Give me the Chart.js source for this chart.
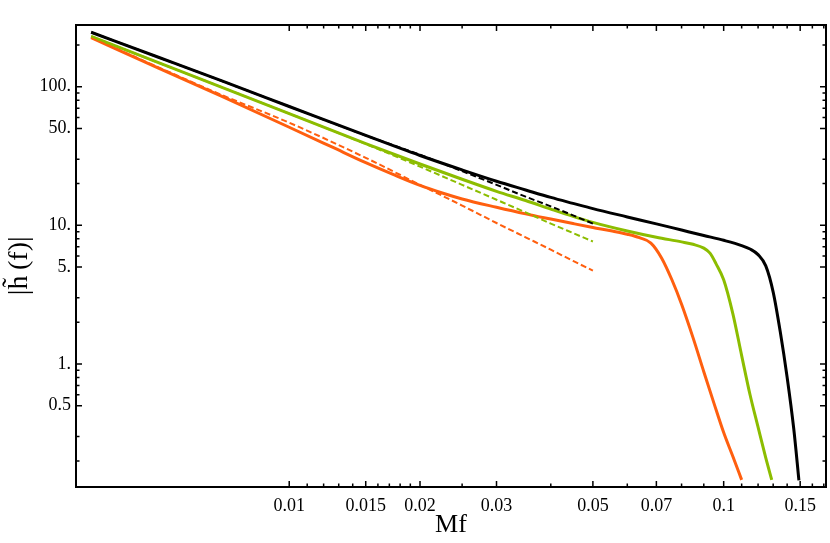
<!DOCTYPE html>
<html>
<head>
<meta charset="utf-8">
<script src="https://cdn.jsdelivr.net/npm/chart.js@4.4.0/dist/chart.umd.min.js"></script>
<style>
  html, body { margin: 0; padding: 0; background: #fff; }
</style>
</head>
<body>
<canvas id="hChart" width="830" height="543"></canvas>
<script>
// Full curves (log-log)
const blackX = [0.0035, 0.005, 0.007, 0.01, 0.015, 0.02, 0.025, 0.03, 0.035, 0.04, 0.045, 0.05, 0.06, 0.07, 0.08, 0.09, 0.1, 0.11, 0.115, 0.12, 0.125, 0.13, 0.135, 0.14, 0.145, 0.149];
const blackY = [247, 163, 110, 72, 44.5, 31.9, 25.1, 20.8, 18.0, 15.9, 14.4, 13.2, 11.5, 10.25, 9.25, 8.45, 7.8, 7.15, 6.75, 6.15, 5.1, 3.3, 1.7, 0.8, 0.34, 0.145];

const greenX = [0.0035, 0.005, 0.007, 0.01, 0.015, 0.02, 0.025, 0.03, 0.035, 0.04, 0.045, 0.05, 0.06, 0.07, 0.08, 0.085, 0.09, 0.093, 0.096, 0.1, 0.105, 0.11, 0.115, 0.12, 0.125, 0.129];
const greenY = [231, 149, 99, 64, 38.8, 27.7, 21.5, 17.6, 15.1, 13.1, 11.6, 10.5, 9.1, 8.2, 7.6, 7.3, 6.85, 6.3, 5.3, 4.05, 2.3, 1.15, 0.6, 0.35, 0.21, 0.146];

const orangeX = [0.0035, 0.005, 0.007, 0.01, 0.0125, 0.015, 0.0175, 0.02, 0.0225, 0.025, 0.03, 0.035, 0.04, 0.045, 0.05, 0.055, 0.06, 0.064, 0.068, 0.072, 0.076, 0.08, 0.085, 0.09, 0.095, 0.1, 0.105, 0.11];
const orangeY = [226, 136, 85, 51, 36.9, 28.3, 23.0, 19.4, 17.1, 15.5, 13.5, 12.1, 11.1, 10.3, 9.65, 9.13, 8.63, 8.15, 7.45, 5.8, 4.05, 2.7, 1.55, 0.88, 0.52, 0.32, 0.215, 0.146];

// Dashed approximations (stop at Mf = 0.05)
const dashX = [0.0035, 0.005, 0.007, 0.01, 0.015, 0.02, 0.025, 0.03, 0.035, 0.04, 0.045, 0.05];
const blackDashY = [247, 163, 110, 72, 44.5, 32.3, 24.6, 19.6, 16.1, 13.7, 11.8, 10.3];
const greenDashY = [231, 149, 99, 64, 38.6, 26.5, 19.6, 15.3, 12.4, 10.3, 8.8, 7.65];
const orangeDashY = [226, 138, 87, 55, 30.7, 19.6, 13.9, 10.4, 8.2, 6.68, 5.54, 4.72];

// Axis ticks
const xTickValues = [0.01, 0.015, 0.02, 0.03, 0.05, 0.07, 0.1, 0.15];
const xTickLabels = ['0.01', '0.015', '0.02', '0.03', '0.05', '0.07', '0.1', '0.15'];
const xMinorTicks = [0.011, 0.012, 0.013, 0.014, 0.016, 0.017, 0.018, 0.019, 0.025, 0.04, 0.06, 0.08, 0.09, 0.11, 0.12, 0.13, 0.14, 0.16, 0.17];
const yTickValues = [0.5, 1, 5, 10, 50, 100];
const yTickLabels = ['0.5', '1.', '5.', '10.', '50.', '100.'];
const yMinorTicks = [0.2, 0.3, 0.6, 0.7, 0.8, 0.9, 2, 3, 6, 7, 8, 9, 20, 30, 60, 70, 80, 90, 200];

const BLACK = '#000000';
const GREEN = '#8cbd00';
const ORANGE = '#ff5f0f';
const SERIF = "'Liberation Serif', 'DejaVu Serif', serif";

function pts(xs, ys) {
  return xs.map((x, i) => ({ x: x, y: ys[i] }));
}

// Mathematica-like frame with inward ticks on all four sides
const frameTicks = {
  id: 'frameTicks',
  afterDatasetsDraw(chart) {
    const { ctx, chartArea: a, scales: { x, y } } = chart;
    ctx.save();
    ctx.strokeStyle = '#000';
    ctx.lineWidth = 1.5;
    ctx.beginPath();
    const xTick = (v, len) => {
      const px = x.getPixelForValue(v);
      ctx.moveTo(px, a.bottom); ctx.lineTo(px, a.bottom - len);
      ctx.moveTo(px, a.top); ctx.lineTo(px, a.top + len);
    };
    const yTick = (v, len) => {
      const py = y.getPixelForValue(v);
      ctx.moveTo(a.left, py); ctx.lineTo(a.left + len, py);
      ctx.moveTo(a.right, py); ctx.lineTo(a.right - len, py);
    };
    xTickValues.forEach(v => xTick(v, 6));
    xMinorTicks.forEach(v => xTick(v, 3.5));
    yTickValues.forEach(v => yTick(v, 6));
    yMinorTicks.forEach(v => yTick(v, 3.5));
    ctx.stroke();
    ctx.lineWidth = 2;
    ctx.strokeRect(a.left, a.top, a.right - a.left, a.bottom - a.top);
    ctx.restore();
  }
};

new Chart(document.getElementById('hChart'), {
  type: 'line',
  data: {
    datasets: [
      { data: pts(dashX, blackDashY), borderColor: BLACK, borderWidth: 2, borderDash: [6, 3] },
      { data: pts(dashX, greenDashY), borderColor: GREEN, borderWidth: 2, borderDash: [6, 3] },
      { data: pts(dashX, orangeDashY), borderColor: ORANGE, borderWidth: 2, borderDash: [6, 3] },
      { data: pts(blackX, blackY), borderColor: BLACK, borderWidth: 3 },
      { data: pts(greenX, greenY), borderColor: GREEN, borderWidth: 3 },
      { data: pts(orangeX, orangeY), borderColor: ORANGE, borderWidth: 3 }
    ]
  },
  options: {
    responsive: false,
    animation: false,
    devicePixelRatio: 1,
    layout: { padding: { top: 25, right: 4, left: 0, bottom: 0 } },
    elements: {
      point: { radius: 0 },
      line: { cubicInterpolationMode: 'monotone', fill: false }
    },
    plugins: {
      legend: { display: false },
      tooltip: { enabled: false }
    },
    scales: {
      x: {
        type: 'logarithmic',
        min: 0.00323,
        max: 0.172,
        afterBuildTicks: scale => { scale.ticks = xTickValues.map(v => ({ value: v })); },
        afterFit: scale => { scale.height = 56; },
        grid: { display: false, drawTicks: false },
        border: { display: false },
        ticks: {
          autoSkip: false,
          maxRotation: 0,
          padding: 8,
          color: '#000',
          font: { family: SERIF, size: 18 },
          callback: (v, i) => xTickLabels[i]
        },
        title: {
          display: true,
          text: 'Mf',
          color: '#000',
          font: { family: SERIF, size: 26 },
          padding: { top: 0, bottom: 2 }
        }
      },
      y: {
        type: 'logarithmic',
        min: 0.1297,
        max: 278.6,
        afterBuildTicks: scale => { scale.ticks = yTickValues.map(v => ({ value: v })); },
        afterFit: scale => { scale.width = 76; },
        grid: { display: false, drawTicks: false },
        border: { display: false },
        ticks: {
          autoSkip: false,
          padding: 5,
          color: '#000',
          font: { family: SERIF, size: 18 },
          callback: (v, i) => yTickLabels[i]
        },
        title: {
          display: true,
          text: '|h\u0303\u2009(f)|\u2002\u2009',
          color: '#000',
          font: { family: SERIF, size: 28 },
          padding: { top: 3, bottom: 0 }
        }
      }
    }
  },
  plugins: [frameTicks]
});
</script>
</body>
</html>
